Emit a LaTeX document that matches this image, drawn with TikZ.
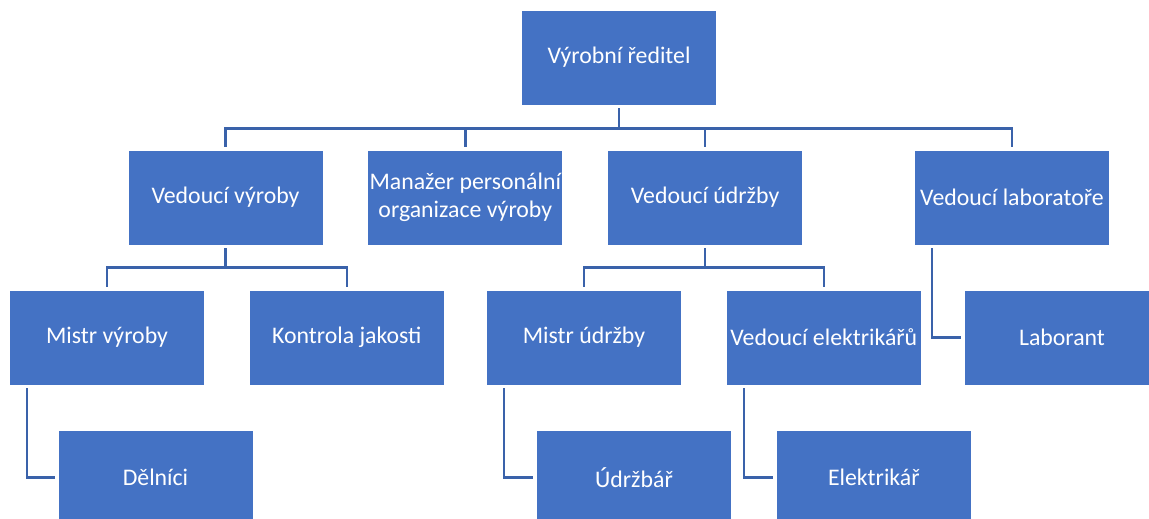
\documentclass[tikz,border=0pt]{standalone}
\usepackage{fontspec}
\setmainfont{Carlito}
\usepackage{tikz}
\usetikzlibrary{positioning}
\definecolor{boxblue}{RGB}{68,114,196}
\definecolor{lineblue}{RGB}{58,98,170}

\begin{document}
\begin{tikzpicture}[x=1pt,y=-1pt,node distance=44pt,
    role/.style={rectangle,fill=boxblue,draw=white,line width=0.8pt,minimum width=195pt,minimum height=95pt,
      inner sep=0pt,text=white,align=center,font=\fontsize{23.8}{28}\selectfont},
    link/.style={draw=lineblue,line width=2.6pt,shorten <=3pt,shorten >=3pt}]
    \path[use as bounding box,clip] (0,0) rectangle (1149,519);

    \node[role] (A) at (619,57.5)    {Výrobní ředitel};
    \node[role] (B) at (225.5,197.5) {Vedoucí výroby};
    \node[role] (C) [right=of B]     {Manažer personální\\organizace výroby};
    \node[role] (D) [right=of C]     {Vedoucí údržby};
    \node[role] (E) at (1012,197.5)  {Vedoucí laboratoře};
    \node[role] (F) at (107,337.5)   {Mistr výroby};
    \node[role] (G) [right=of F]     {Kontrola jakosti};
    \node[role] (H) at (584,337.5)   {Mistr údržby};
    \node[role] (I) [right=of H]     {Vedoucí elektrikářů};
    \node[role] (J) at (1062,337.5)  {Laborant};
    \node[role] (K) at (155.5,477.5) {Dělníci};
    \node[role] (L) at (634,477.5)   {Údržbář};
    \node[role] (M) [right=of L]     {Elektrikář};

    \foreach \n in {B,C,D,E}
      \draw[link] (A.south) -- ++(0,23) -| (\n.north);
    \foreach \n in {F,G}
      \draw[link] (B.south) -- ++(0,22) -| (\n.north);
    \foreach \n in {H,I}
      \draw[link] (D.south) -- ++(0,22) -| (\n.north);

    \draw[link] ([xshift=18pt]E.south west) |- (J.west);
    \draw[link] ([xshift=18pt]F.south west) |- (K.west);
    \draw[link] ([xshift=18pt]H.south west) |- (L.west);
    \draw[link] ([xshift=18pt]I.south west) |- (M.west);
\end{tikzpicture}
\end{document}
